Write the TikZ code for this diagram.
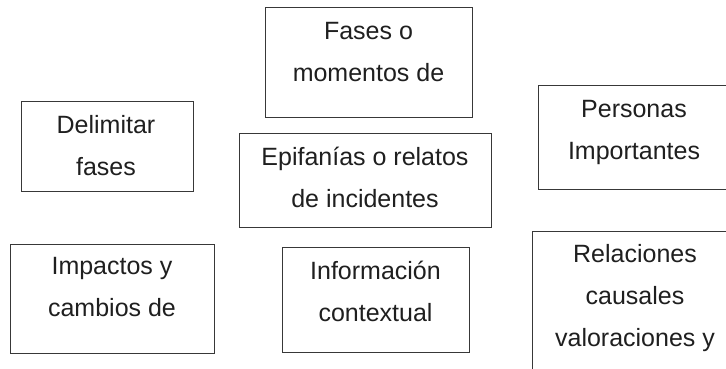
\documentclass[tikz,border=0pt]{standalone}
\usepackage{fontspec}
\setmainfont{Liberation Sans}
\begin{document}
\begin{tikzpicture}[x=1pt,y=-1pt,
  boxstyle/.style={draw=black!78, line width=1.2pt, rectangle, inner sep=0pt, anchor=north west},
  txt/.style={anchor=north, inner sep=0pt, align=center, text=black!88,
    font=\fontsize{25}{42}\selectfont}]
\clip (0,0) rectangle (726,368);
\fill[white] (0,0) rectangle (726,368);
% boxes
\node[boxstyle, minimum width=207pt, minimum height=110pt] (b1) at (265,7) {};
\node[boxstyle, minimum width=172pt, minimum height=90pt] (b2) at (21,101) {};
\node[boxstyle, minimum width=252pt, minimum height=94pt] (b3) at (239,133) {};
\node[boxstyle, minimum width=200pt, minimum height=104pt] (b4) at (538,85) {};
\node[boxstyle, minimum width=204pt, minimum height=109pt] (b5) at (10,244) {};
\node[boxstyle, minimum width=187pt, minimum height=105pt] (b6) at (282,247) {};
\node[boxstyle, minimum width=206pt, minimum height=160pt] (b7) at (532,231) {};
% texts
\node[txt] (t1) at (368.5,9.6) {\strut Fases o\\momentos de};
\node[txt] (t2) at (106,103.6) {\strut Delimitar\\fases};
\node[txt] (t3) at (365,135.6) {\strut Epifanías o relatos\\de incidentes};
\node[txt] (t4) at (634,87.6) {\strut Personas\\Importantes};
\node[txt] (t5) at (112,244.6) {\strut Impactos y\\cambios de};
\node[txt] (t6) at (375.5,249.6) {\strut Información\\contextual};
\node[txt] (t7) at (635,232.6) {\strut Relaciones\\causales\\valoraciones y};
\end{tikzpicture}
\end{document}
